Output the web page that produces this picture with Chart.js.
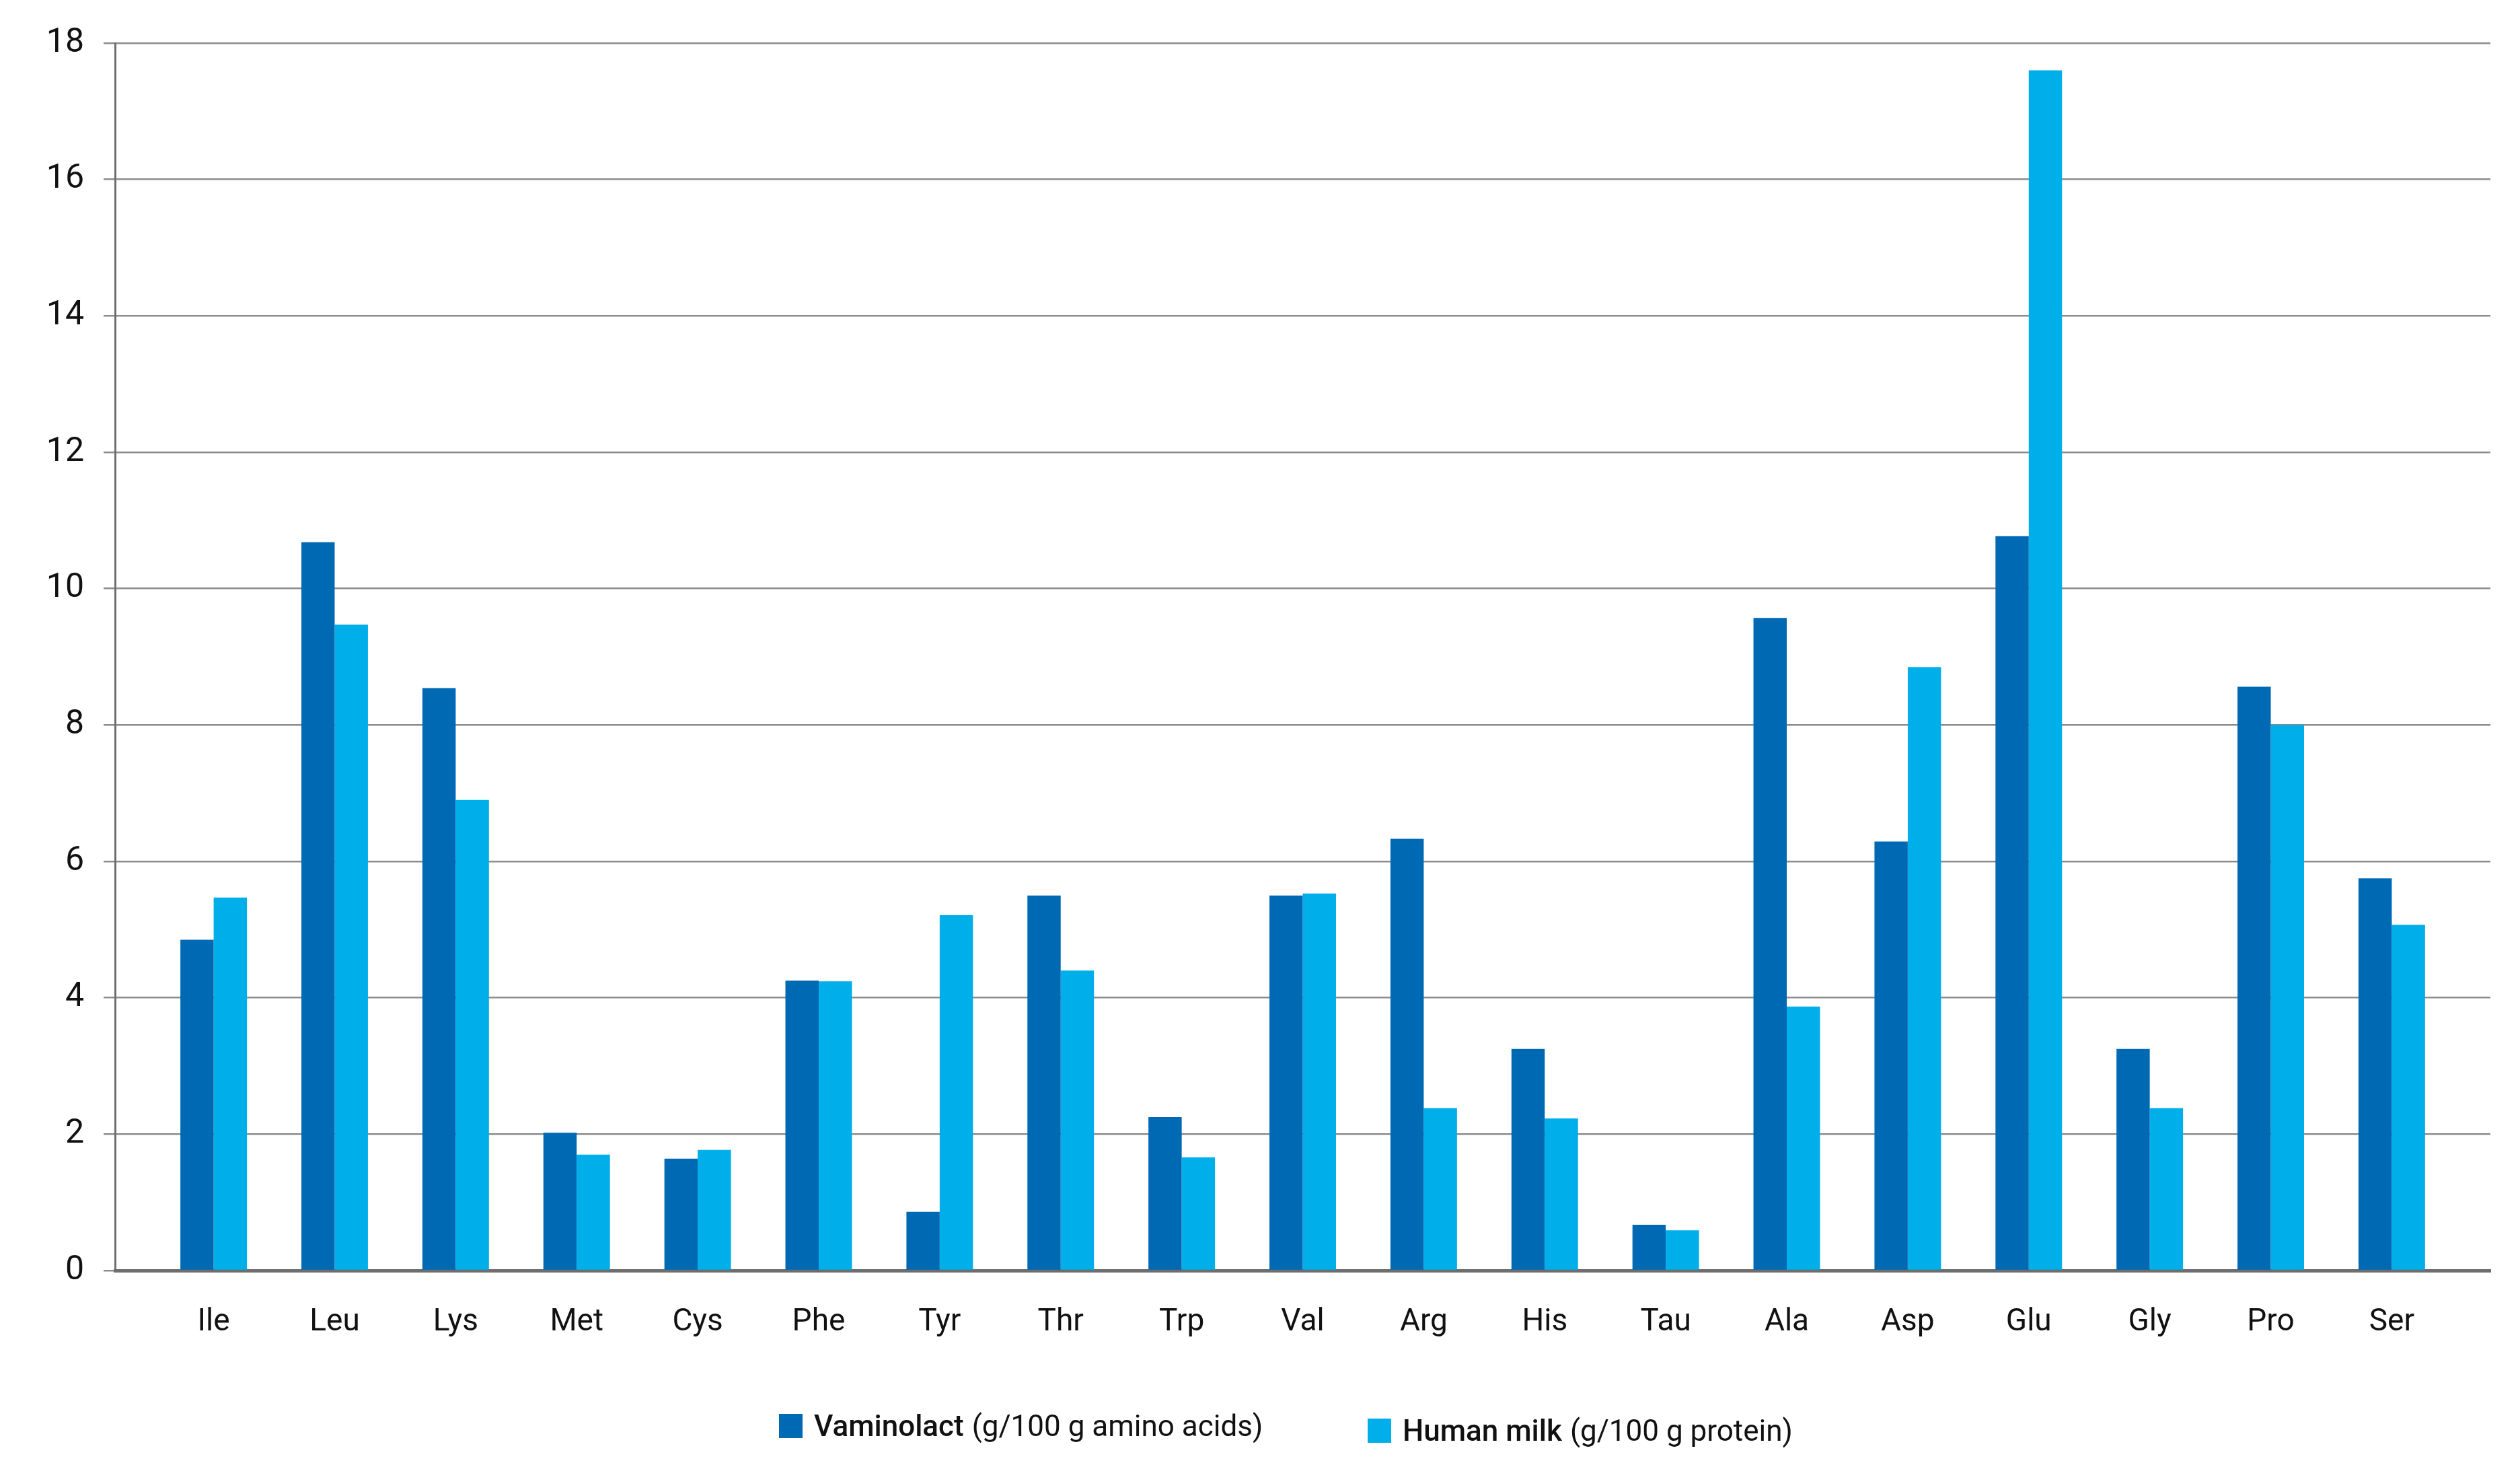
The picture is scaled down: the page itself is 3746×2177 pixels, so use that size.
<!DOCTYPE html>
<html>
<head>
<meta charset="utf-8">
<script src="https://cdn.jsdelivr.net/npm/chart.js@4.4.1/dist/chart.umd.min.js"></script>
<style>
    html, body { margin: 0; padding: 0; background: #ffffff; }
    #wrap { position: relative; width: 3746px; height: 2177px; }
    .legend-item {
        position: absolute;
        display: flex;
        align-items: center;
        font-family: Roboto, "Open Sans", sans-serif;
        font-size: 44px;
        color: #111111;
        white-space: nowrap;
    }
    .legend-item .box { width: 35px; height: 36px; margin-right: 17px; }
    .legend-item b { font-weight: 500; margin-right: 12px; }
</style>
</head>
<body>
<div id="wrap">
    <canvas id="aminoChart" width="3746" height="2177"></canvas>
    <div class="legend-item" style="left:1158px; top:2093px;">
        <span class="box" style="background:#0069b4"></span><b>Vaminolact</b>(g/100 g amino acids)
    </div>
    <div class="legend-item" style="left:2033px; top:2100px;">
        <span class="box" style="background:#00aeea"></span><b>Human milk</b>(g/100 g protein)
    </div>
</div>
<script>
    const categories = ["Ile", "Leu", "Lys", "Met", "Cys", "Phe", "Tyr", "Thr", "Trp", "Val",
        "Arg", "His", "Tau", "Ala", "Asp", "Glu", "Gly", "Pro", "Ser"];
    const vaminolact = [4.85, 10.68, 8.54, 2.02, 1.64, 4.25, 0.86, 5.5, 2.25, 5.5,
        6.33, 3.25, 0.67, 9.57, 6.29, 10.77, 3.25, 8.56, 5.75];
    const humanMilk = [5.47, 9.47, 6.9, 1.7, 1.77, 4.24, 5.21, 4.4, 1.66, 5.53,
        2.38, 2.23, 0.59, 3.87, 8.85, 17.6, 2.38, 8.0, 5.07];
    const yTicks = [0, 2, 4, 6, 8, 10, 12, 14, 16, 18];

    const ctx = document.getElementById("aminoChart").getContext("2d");

    const chart = new Chart(ctx, {
        type: "bar",
        data: {
            datasets: [
                {
                    label: "Vaminolact (g/100 g amino acids)",
                    data: vaminolact.map((v, i) => ({ x: i, y: v })),
                    backgroundColor: "#0069b4",
                    borderWidth: 0,
                },
                {
                    label: "Human milk (g/100 g protein)",
                    data: humanMilk.map((v, i) => ({ x: i, y: v })),
                    backgroundColor: "#00aeea",
                    borderWidth: 0,
                },
            ],
        },
        options: {
            responsive: false,
            devicePixelRatio: 1,
            animation: false,
            categoryPercentage: 0.55,
            barPercentage: 1.0,
            layout: {
                padding: { top: 64, right: 44, bottom: 0, left: 0 },
            },
            scales: {
                x: {
                    type: "linear",
                    offset: false,
                    min: -0.815,
                    max: 18.815,
                    afterBuildTicks: function (scale) {
                        scale.ticks = categories.map((c, i) => ({ value: i }));
                    },
                    afterFit: function (scale) {
                        scale.height = 289;
                    },
                    grid: { display: false, drawTicks: false },
                    border: { display: true, color: "#6e6e6e", width: 5 },
                    ticks: {
                        padding: 50,
                        autoSkip: false,
                        maxRotation: 0,
                        color: "#111111",
                        font: { family: "Roboto", size: 46 },
                        callback: function (value) {
                            return categories[value];
                        },
                    },
                },
                y: {
                    min: 0,
                    max: 18,
                    afterBuildTicks: function (scale) {
                        scale.ticks = yTicks.map((v) => ({ value: v }));
                    },
                    afterFit: function (scale) {
                        scale.width = 171;
                    },
                    grid: {
                        color: "#8c8c8c",
                        lineWidth: 2.5,
                        drawTicks: true,
                        tickLength: 17,
                    },
                    border: { display: true, color: "#6e6e6e", width: 3 },
                    ticks: {
                        padding: 29,
                        color: "#111111",
                        font: { family: "Roboto", size: 50 },
                    },
                },
            },
            plugins: {
                legend: { display: false },
                tooltip: { enabled: false },
            },
        },
    });
</script>
</body>
</html>
